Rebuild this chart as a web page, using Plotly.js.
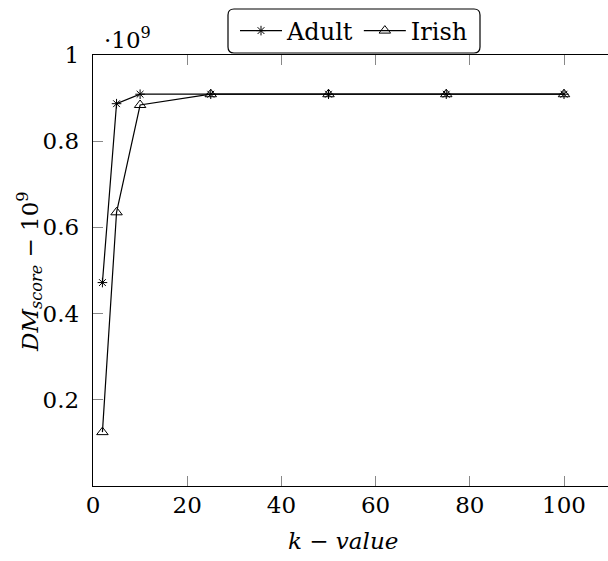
<!DOCTYPE html>
<html>
<head>
<meta charset="utf-8">
<script src="https://cdn.plot.ly/plotly-3.0.1.min.js"></script>
<style>html,body{margin:0;padding:0;background:#fff;overflow:hidden}</style>
</head>
<body>
<div id="chart" style="width:608px;height:561px"></div>
<script>
// Data
const kValues = [2, 5, 10, 25, 50, 75, 100];
const adultScores = [0.472, 0.887, 0.909, 0.909, 0.909, 0.909, 0.909];
const irishScores = [0.125, 0.635, 0.884, 0.909, 0.909, 0.909, 0.909];
const xTickVals = [0, 20, 40, 60, 80, 100];
const xTickText = ['0', '20', '40', '60', '80', '100'];
const yTickVals = [0.2, 0.4, 0.6, 0.8, 1];
const yTickText = ['0.2', '0.4', '0.6', '0.8', '1'];

const FONT = 'DejaVu Serif';
const FS = 22;

// layout geometry (pixels)
const W = 608, H = 561;
const M = {l: 93, r: 0, t: 55, b: 75};
const PW = W - M.l - M.r, PH = H - M.t - M.b;
const px = x => (x - M.l) / PW;
const py = y => (H - M.b - y) / PH;

// rounded legend frame
function roundRect(x0, y0, x1, y1, r) {
  const rx = r / PW, ry = r / PH;
  const X0 = px(x0), X1 = px(x1), Y0 = py(y0), Y1 = py(y1);
  return `M ${X0 + rx} ${Y0} L ${X1 - rx} ${Y0} Q ${X1} ${Y0} ${X1} ${Y0 - ry} ` +
         `L ${X1} ${Y1 + ry} Q ${X1} ${Y1} ${X1 - rx} ${Y1} ` +
         `L ${X0 + rx} ${Y1} Q ${X0} ${Y1} ${X0} ${Y1 + ry} ` +
         `L ${X0} ${Y0 - ry} Q ${X0} ${Y0} ${X0 + rx} ${Y0} Z`;
}

const traces = [
  {
    x: kValues, y: adultScores, name: 'Adult', type: 'scatter', mode: 'lines+markers',
    line: {color: '#000', width: 1.2},
    marker: {symbol: 'asterisk-open', size: 8, color: '#000', line: {color: '#000', width: 1}}
  },
  {
    x: kValues, y: irishScores, name: 'Irish', type: 'scatter', mode: 'lines+markers',
    line: {color: '#000', width: 1.2},
    marker: {symbol: 'triangle-up-open', size: 10, color: '#000', line: {color: '#000', width: 1}}
  }
];

const layout = {
  width: W, height: H,
  margin: M,
  paper_bgcolor: '#fff', plot_bgcolor: '#fff',
  font: {family: FONT, size: FS, color: '#000'},
  showlegend: true,
  legend: {
    orientation: 'h', x: px(354), xanchor: 'center', y: py(31), yanchor: 'middle',
    bgcolor: 'rgba(0,0,0,0)', borderwidth: 0, itemwidth: 42,
    font: {family: FONT, size: 24, color: '#000'}
  },
  xaxis: {
    range: [0, (W - M.l) / 4.71],
    tickvals: xTickVals, ticktext: xTickText,
    ticks: 'inside', ticklen: 10, tickcolor: '#888', tickwidth: 1,
    showline: true, linecolor: '#000', linewidth: 1.3, mirror: 'ticks',
    showgrid: false, zeroline: false,
    ticklabelstandoff: -2,
    tickfont: {family: FONT, size: 23, color: '#000'}
  },
  yaxis: {
    range: [0, 1],
    tickvals: yTickVals, ticktext: yTickText,
    ticks: 'inside', ticklen: 10, tickcolor: '#888', tickwidth: 1,
    showline: true, linecolor: '#000', linewidth: 1.3, mirror: false,
    showgrid: false, zeroline: false,
    ticklabelstandoff: 8,
    tickfont: {family: FONT, size: 23, color: '#000'}
  },
  shapes: [
    {type: 'path', xref: 'paper', yref: 'paper', path: roundRect(228, 9, 480, 53, 6),
     line: {color: '#000', width: 1.2}, fillcolor: '#fff', layer: 'below'}
  ],
  annotations: [
    {xref: 'paper', yref: 'paper', x: px(343), y: py(541), xanchor: 'center', yanchor: 'middle',
     text: '<i>k</i> − <i>value</i>', showarrow: false, font: {family: FONT, size: 23, color: '#000'}},
    {xref: 'paper', yref: 'paper', x: px(29), y: py(272), xanchor: 'center', yanchor: 'middle',
     textangle: -90, text: '<i>DM</i><sub><i>score</i></sub> − 10<sup>9</sup>', showarrow: false,
     font: {family: FONT, size: 23, color: '#000'}},
    {xref: 'paper', yref: 'paper', x: px(102), y: py(38), xanchor: 'left', yanchor: 'middle',
     text: '·10<sup>9</sup>', showarrow: false, font: {family: FONT, size: 23, color: '#000'}}
  ]
};

Plotly.newPlot('chart', traces, layout, {displayModeBar: false, staticPlot: true});
</script>
</body>
</html>
